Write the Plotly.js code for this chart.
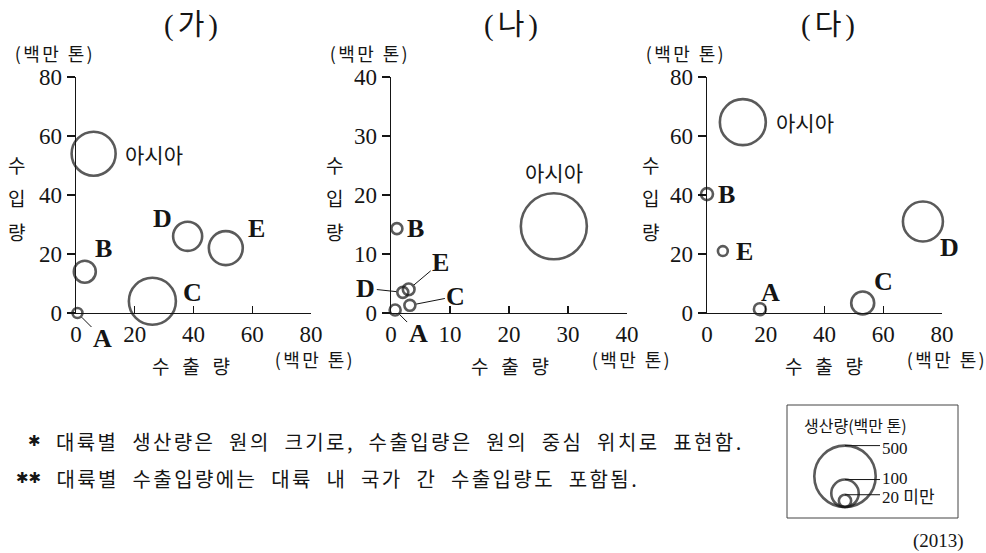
<!DOCTYPE html>
<html><head><meta charset="utf-8">
<script src="https://cdn.plot.ly/plotly-3.0.1.min.js"></script>
<style>html,body{margin:0;padding:0;background:#fff}</style>
</head><body><div id="chart" style="width:986px;height:553px"></div>
<script>
// ---------- data ----------
const continents = ['A', 'B', 'C', 'D', 'E', '아시아'];
// (가)
const gaExport = [0.5, 3, 26, 38, 51, 6];
const gaImport = [0, 14, 4, 26, 22, 54];
const gaProduction = [13, 64, 293, 112, 153, 257];
// (나)
const naExport = [0.7, 1, 3.2, 2, 3, 27.6];
const naImport = [0.5, 14.3, 1.3, 3.5, 4, 14.7];
const naProduction = [16, 16, 16, 16, 18, 578];
// (다)
const daExport = [18, 0, 53, 73.5, 5.4, 12.2];
const daImport = [1.3, 40.3, 3.4, 31, 21, 64.7];
const daProduction = [19, 19, 70, 212, 13, 280];

const panelTitles = ['(가)', '(나)', '(다)'];
const ticksWide = [0, 20, 40, 60, 80];
const ticksNarrow = [0, 10, 20, 30, 40];
const legendValues = [500, 100, 20];
const legendLabels = ['500', '100', '20 미만'];
const unitText = '(백만 톤)';
const importTitle = ['수', '입', '량'];
const exportTitle = '수\u00a0\u00a0\u00a0출\u00a0\u00a0\u00a0량';
const note1 = '대륙별\u00a0\u00a0생산량은\u00a0\u00a0원의\u00a0\u00a0크기로,\u00a0\u00a0수출입량은\u00a0\u00a0원의\u00a0\u00a0중심\u00a0\u00a0위치로\u00a0\u00a0표현함.';
const note2 = '대륙별\u00a0\u00a0수출입량에는\u00a0\u00a0대륙\u00a0\u00a0내\u00a0\u00a0국가\u00a0\u00a0간\u00a0\u00a0수출입량도\u00a0\u00a0포함됨.';
const yearText = '(2013)';

// ---------- style / layout ----------
const W = 986, H = 553;
const px = x => x / W, py = y => 1 - y / H;
const SIZE_K = 2.746; // diameter px per sqrt(production)
const diam = p => SIZE_K * Math.sqrt(p);
const SERIF = 'Liberation Serif, Times New Roman, serif';
const SANS = 'Noto Sans CJK KR, Noto Sans, sans-serif';
const INK = '#151515';

const panels = [
  {ex: gaExport, im: gaImport, pr: gaProduction, xr: [0, 80], yr: [0, 80], xt: ticksWide, yt: ticksWide,
   dom: [76, 311], title: 191, ytitleX: 16, unitX: 272, xtitle: 191, unitTopX: 12,
   labels: [
     {ax: 25, ay: 25, arrow: true},
     {dx: 19, dy: 23},
     {dx: 40, dy: 9},
     {dx: -25, dy: 18},
     {dx: 31, dy: 20},
     {dx: 29, dy: 0, left: true, kor: true}
   ]},
  {ex: naExport, im: naImport, pr: naProduction, xr: [0, 40], yr: [0, 40], xt: ticksNarrow, yt: ticksNarrow,
   dom: [391, 627], title: 511, ytitleX: 334, unitX: 589, xtitle: 510, unitTopX: 327,
   labels: [
     {ax: 23, ay: 23, arrow: true},
     {dx: 8, dy: 0, left: true},
     {ax: 46, ay: -9, arrow: true},
     {ax: -37, ay: -4, arrow: true},
     {ax: 32, ay: -27, arrow: true},
     {dx: 0, dy: 54, kor: true}
   ]},
  {ex: daExport, im: daImport, pr: daProduction, xr: [0, 80], yr: [0, 80], xt: ticksWide, yt: ticksWide,
   dom: [707, 942], title: 828, ytitleX: 650, unitX: 904, xtitle: 824, unitTopX: 643,
   labels: [
     {dx: 11, dy: 17},
     {dx: 9, dy: 0, left: true},
     {dx: 21, dy: 21},
     {dx: 27, dy: -26},
     {dx: 11, dy: 0, left: true},
     {dx: 31, dy: 0, left: true, kor: true}
   ]}
];

const PLOT_TOP = 77, PLOT_BOT = 313;
const data = [];
const layout = {
  width: W, height: H, margin: {l: 0, r: 0, t: 0, b: 0},
  paper_bgcolor: '#fff', plot_bgcolor: 'rgba(0,0,0,0)', showlegend: false,
  annotations: [], shapes: []
};
const spacing = []; // letter-spacing (px) per annotation index
function addAnn(a, ls) {
  if (ls) {
    // text is drawn centred, so extra letter-spacing grows both ways; keep the anchored edge fixed
    const grow = [...a.text].length * ls / 2;
    const dir = a.xanchor === 'left' ? 1 : a.xanchor === 'right' ? -1 : 0;
    a.xshift = (a.xshift || 0) + dir * grow + ls / 2;
  }
  spacing[layout.annotations.length] = ls || 0;
  layout.annotations.push(a);
}

panels.forEach((p, k) => {
  const n = k === 0 ? '' : String(k + 1);
  const xa = 'x' + n, ya = 'y' + n;
  const axBase = {
    showgrid: false, zeroline: false, showline: true, linecolor: INK, linewidth: 1.4,
    tickcolor: INK, tickwidth: 1.2, tickfont: {family: SERIF, size: 23, color: INK},
    fixedrange: true, mirror: false
  };
  layout['xaxis' + n] = Object.assign({}, axBase, {
    domain: [px(p.dom[0]), px(p.dom[1])], range: p.xr, tickvals: p.xt, ticks: 'inside', ticklen: 7,
    anchor: ya
  });
  layout['yaxis' + n] = Object.assign({}, axBase, {
    domain: [py(PLOT_BOT), py(PLOT_TOP)], range: p.yr, tickvals: p.yt, ticks: 'outside', ticklen: 8,
    anchor: xa
  });
  data.push({
    type: 'scatter', mode: 'markers', x: p.ex, y: p.im, xaxis: xa, yaxis: ya,
    cliponaxis: false, hoverinfo: 'skip',
    marker: {size: p.pr.map(diam), sizemode: 'diameter', color: 'rgba(0,0,0,0)',
             line: {color: INK, width: 2.6}}
  });
  // labels
  p.labels.forEach((c, i) => {
    const r = diam(p.pr[i]) / 2;
    const a = {
      x: p.ex[i], y: p.im[i], xref: xa, yref: ya, text: continents[i],
      font: c.kor ? {family: SANS, size: 21, color: INK} : {family: SERIF, size: 26, color: INK, weight: 'bold'}
    };
    if (c.arrow) {
      Object.assign(a, {showarrow: true, ax: c.ax, ay: c.ay, arrowhead: 0, arrowwidth: 1,
        arrowcolor: INK, standoff: r + 1, xanchor: 'center', yanchor: 'middle'});
    } else {
      Object.assign(a, {showarrow: false, xshift: c.dx, yshift: c.dy,
        xanchor: c.left ? 'left' : 'center', yanchor: 'middle'});
    }
    addAnn(a, 0);
  });
  // panel title
  addAnn({xref: 'paper', yref: 'paper', x: px(p.title), y: py(25), text: panelTitles[k],
    showarrow: false, xanchor: 'center', yanchor: 'middle', font: {family: SERIF + ', ' + SANS, size: 29, color: INK}}, 4);
  // y unit (top)
  addAnn({xref: 'paper', yref: 'paper', x: px(p.unitTopX), y: py(53), text: unitText,
    showarrow: false, xanchor: 'left', yanchor: 'middle', font: {family: SANS, size: 18, color: INK}}, 2.4);
  // vertical import title
  [165, 198, 231].forEach((yy, j) => {
    addAnn({xref: 'paper', yref: 'paper', x: px(p.ytitleX), y: py(yy), text: importTitle[j],
      showarrow: false, xanchor: 'center', yanchor: 'middle', font: {family: SANS, size: 19, color: INK}}, 0);
  });
  // x title and unit
  addAnn({xref: 'paper', yref: 'paper', x: px(p.xtitle), y: py(365), text: exportTitle,
    showarrow: false, xanchor: 'center', yanchor: 'middle', font: {family: SANS, size: 19, color: INK}}, 0);
  addAnn({xref: 'paper', yref: 'paper', x: px(p.unitX), y: py(359), text: unitText,
    showarrow: false, xanchor: 'left', yanchor: 'middle', font: {family: SANS, size: 18, color: INK}}, 2.4);
});

// ---------- size legend ----------
const LEG_CX = 45, LEG_LINE_END = 80;
const legendTextNudge = [3, -1, 3];
layout.xaxis4 = {domain: [px(800), px(900)], range: [0, 100], visible: false, fixedrange: true, anchor: 'y4'};
layout.yaxis4 = {domain: [py(507), py(437)], range: [0, 70], visible: false, fixedrange: true, anchor: 'x4'};
data.push({
  type: 'scatter', mode: 'markers', xaxis: 'x4', yaxis: 'y4', cliponaxis: false, hoverinfo: 'skip',
  x: legendValues.map(() => LEG_CX), y: legendValues.map(v => diam(v) / 2),
  marker: {size: legendValues.map(diam), sizemode: 'diameter', color: 'rgba(0,0,0,0)',
           line: {color: INK, width: 2.6}}
});
legendValues.forEach((v, i) => {
  const top = diam(v);
  layout.shapes.push({type: 'line', xref: 'x4', yref: 'y4', x0: LEG_CX, x1: LEG_LINE_END, y0: top, y1: top,
    line: {color: INK, width: 1}});
  addAnn({xref: 'x4', yref: 'y4', x: LEG_LINE_END, y: top, yshift: -legendTextNudge[i], text: legendLabels[i], showarrow: false,
    xanchor: 'left', yanchor: 'middle', font: {family: SERIF + ', ' + SANS, size: 17, color: INK}}, 0);
});
layout.shapes.push({type: 'rect', xref: 'paper', yref: 'paper', x0: px(787), x1: px(958), y0: py(518), y1: py(405),
  line: {color: '#444', width: 1}});
addAnn({xref: 'paper', yref: 'paper', x: px(802), y: py(425), text: '생산량' + unitText,
  showarrow: false, xanchor: 'left', yanchor: 'middle', font: {family: SANS, size: 16, color: INK}}, 0);
addAnn({xref: 'paper', yref: 'paper', x: px(966), y: py(541), text: yearText,
  showarrow: false, xanchor: 'right', yanchor: 'middle', font: {family: SERIF, size: 19, color: INK}}, 0);

// ---------- notes ----------
addAnn({xref: 'paper', yref: 'paper', x: px(43), y: py(441), text: '✱', showarrow: false,
  xanchor: 'right', yanchor: 'middle', font: {family: 'DejaVu Sans', size: 15, color: INK}}, 0);
addAnn({xref: 'paper', yref: 'paper', x: px(43), y: py(478), text: '✱✱', showarrow: false,
  xanchor: 'right', yanchor: 'middle', font: {family: 'DejaVu Sans', size: 15, color: INK}}, 0);
addAnn({xref: 'paper', yref: 'paper', x: px(53), y: py(441), text: note1, showarrow: false,
  xanchor: 'left', yanchor: 'middle', font: {family: SANS, size: 20, color: INK}}, 2.4);
addAnn({xref: 'paper', yref: 'paper', x: px(53), y: py(478), text: note2, showarrow: false,
  xanchor: 'left', yanchor: 'middle', font: {family: SANS, size: 20, color: INK}}, 2.4);

Plotly.newPlot('chart', data, layout, {displayModeBar: false, staticPlot: true}).then(gd => {
  gd.querySelectorAll('g.annotation').forEach(g => {
    const i = +g.getAttribute('data-index');
    if (spacing[i]) g.querySelectorAll('text').forEach(t => t.style.letterSpacing = spacing[i] + 'px');
  });
});
</script>
</body></html>
